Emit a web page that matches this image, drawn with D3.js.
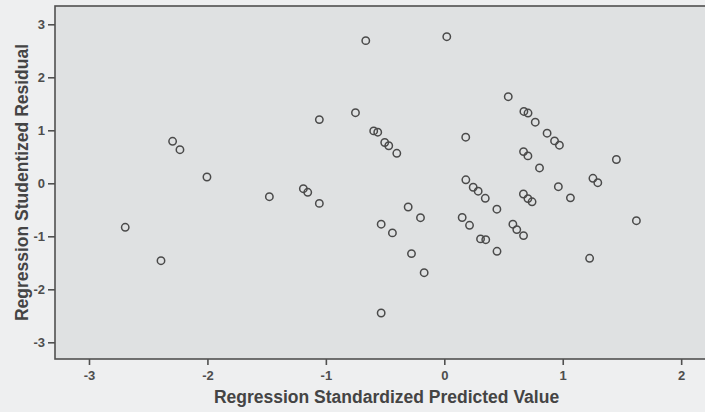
<!DOCTYPE html>
<html>
<head>
<meta charset="utf-8">
<script src="https://cdn.jsdelivr.net/npm/d3@7"></script>
<style>
  html, body { margin: 0; padding: 0; background: #eeeff0; }
  svg { display: block; }
</style>
</head>
<body>
<svg id="chart" width="705" height="412"></svg>
<script>
// Regression Standardized Predicted Value
const predicted = [
  -2.694, -2.392, -2.294, -2.232, -2.004, -1.477, -1.190, -1.153, -1.055, -1.055,
  -0.750, -0.663, -0.596, -0.562, -0.503, -0.469, -0.401, -0.533, -0.438, -0.533,
  -0.305, -0.201, -0.277, -0.170, 0.021, 0.181, 0.182, 0.244, 0.286, 0.346,
  0.444, 0.151, 0.213, 0.306, 0.350, 0.445, 0.540, 0.672, 0.707, 0.768,
  0.868, 0.931, 0.972, 0.669, 0.706, 0.804, 0.668, 0.706, 0.741, 0.579,
  0.612, 0.669, 0.963, 1.065, 1.255, 1.296, 1.453, 1.622, 1.227
];
// Regression Studentized Residual
const residual = [
  -0.830, -1.460, 0.792, 0.634, 0.119, -0.253, -0.102, -0.170, -0.379, 1.202,
  1.332, 2.691, 0.989, 0.964, 0.770, 0.708, 0.566, -0.772, -0.936, -2.447,
  -0.447, -0.649, -1.326, -1.687, 2.766, 0.870, 0.066, -0.075, -0.149, -0.283,
  -0.489, -0.645, -0.792, -1.049, -1.064, -1.283, 1.634, 1.355, 1.325, 1.153,
  0.945, 0.800, 0.719, 0.598, 0.517, 0.289, -0.202, -0.289, -0.349, -0.772,
  -0.874, -0.987, -0.064, -0.275, 0.094, 0.011, 0.449, -0.706, -1.415
];
const xTicks = [-3, -2, -1, 0, 1, 2];
const yTicks = [-3, -2, -1, 0, 1, 2, 3];
const xTitle = "Regression Standardized Predicted Value";
const yTitle = "Regression Studentized Residual";

const svg = d3.select("#chart");
const plot = { left: 55, top: 6, right: 718, bottom: 359 };

const x = d3.scaleLinear().domain([-3.287, 2.311]).range([plot.left, plot.right]);
const y = d3.scaleLinear().domain([-3.315, 3.345]).range([plot.bottom, plot.top]);

const ink = "#4a4a4a";
const fmt = d => String(d); // plain hyphen for negatives, as in the original

// plot area
svg.append("rect")
  .attr("x", plot.left).attr("y", plot.top)
  .attr("width", plot.right - plot.left).attr("height", plot.bottom - plot.top)
  .attr("fill", "#dfe1e2")
  .attr("stroke", "#505050")
  .attr("stroke-width", 1.6);

// x axis
const xAxis = d3.axisBottom(x).tickValues(xTicks).tickSize(6).tickPadding(6).tickFormat(fmt);
const gx = svg.append("g").attr("transform", `translate(0,${plot.bottom})`).call(xAxis);
gx.select(".domain").remove();
gx.selectAll(".tick line").attr("stroke", "#505050").attr("stroke-width", 1.6);
gx.selectAll(".tick text")
  .attr("fill", "#4d4d4d").attr("font-family", "Liberation Sans, Arial, sans-serif")
  .attr("font-size", 13).attr("font-weight", "bold").attr("dy", "0.71em");

// y axis
const yAxis = d3.axisLeft(y).tickValues(yTicks).tickSize(7).tickPadding(3).tickFormat(fmt);
const gy = svg.append("g").attr("transform", `translate(${plot.left},0)`).call(yAxis);
gy.select(".domain").remove();
gy.selectAll(".tick line").attr("stroke", "#505050").attr("stroke-width", 1.6);
gy.selectAll(".tick text")
  .attr("fill", "#4d4d4d").attr("font-family", "Liberation Sans, Arial, sans-serif")
  .attr("font-size", 13).attr("font-weight", "bold");

// points
const pts = predicted.map((p, i) => ({ p, r: residual[i] }));
svg.append("g").selectAll("circle").data(pts).join("circle")
  .attr("cx", d => x(d.p))
  .attr("cy", d => y(d.r))
  .attr("r", 3.7)
  .attr("fill", "none")
  .attr("stroke", ink)
  .attr("stroke-width", 1.5);

// titles
svg.append("text")
  .attr("x", (plot.left + plot.right) / 2)
  .attr("y", 403)
  .attr("text-anchor", "middle")
  .attr("font-family", "Liberation Sans, Arial, sans-serif")
  .attr("font-weight", "bold")
  .attr("font-size", 17.5)
  .attr("fill", "#444")
  .text(xTitle);

svg.append("text")
  .attr("transform", `translate(28,${(plot.top + plot.bottom) / 2}) rotate(-90)`)
  .attr("text-anchor", "middle")
  .attr("font-family", "Liberation Sans, Arial, sans-serif")
  .attr("font-weight", "bold")
  .attr("font-size", 17.5)
  .attr("fill", "#444")
  .text(yTitle);
</script>
</body>
</html>
